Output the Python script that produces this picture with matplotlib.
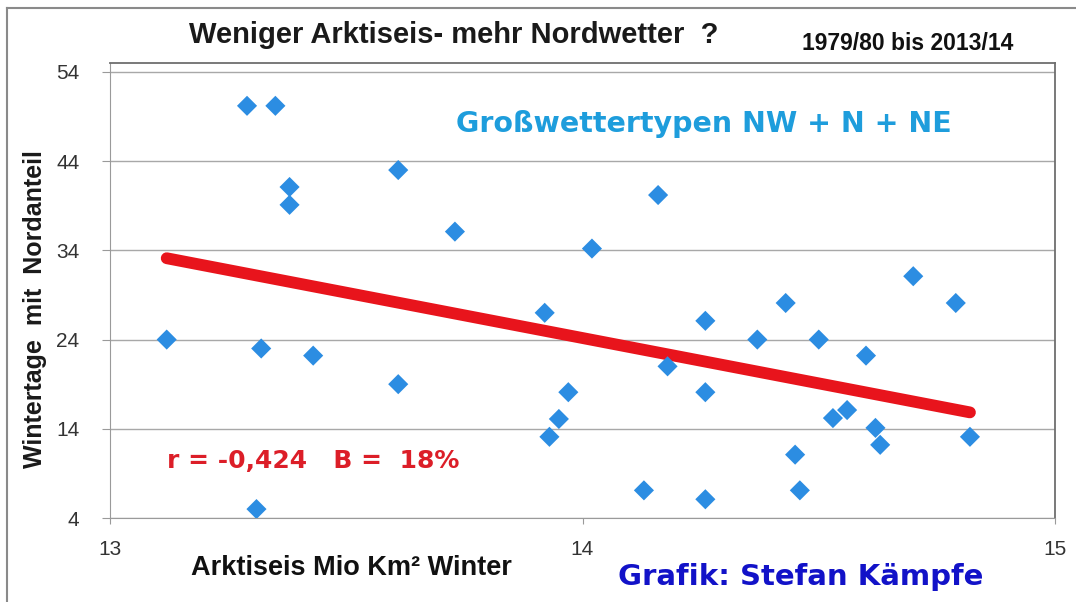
import numpy as np
import matplotlib.pyplot as plt
from matplotlib.lines import Line2D

# Arktiseis (Mio km²) vs. Wintertage mit Nordanteil, Winter 1979/80 - 2013/14
eis = [13.12, 13.29, 13.35, 13.32, 13.38, 13.38, 13.43, 13.31, 13.61, 13.61,
       13.73, 13.92, 13.93, 13.95, 13.97, 14.02, 14.16, 14.13, 14.18, 14.26,
       14.26, 14.26, 14.37, 14.43, 14.45, 14.46, 14.50, 14.53, 14.56, 14.60,
       14.62, 14.63, 14.70, 14.79, 14.82]
tage = [24, 50.2, 50.2, 23, 41.1, 39.1, 22.2, 5, 43, 19,
        36.1, 27, 13.1, 15.1, 18.1, 34.2, 40.2, 7.1, 21, 26.1,
        18.1, 6.1, 24, 28.1, 11.1, 7.1, 24, 15.2, 16.1, 22.2,
        14.1, 12.2, 31.1, 28.1, 13.1]

yticks = [4, 14, 24, 34, 44, 54]
xticks = [13, 14, 15]

fig = plt.figure(figsize=(10.76, 6.02), dpi=100)
ax = fig.add_axes([110/1076, 1-518/602, 945/1076, 455/602])

slope, icpt = np.polyfit(eis, tage, 1)
xs = np.array([min(eis), max(eis)])
ax.plot(xs, slope*xs + icpt, color='#E8141C', lw=8.5, solid_capstyle='round', zorder=3)
ax.scatter(eis, tage, marker='D', s=105, color='#2C8DE2', edgecolors='none', zorder=4)

ax.set_xlim(13, 15)
ax.set_ylim(4, 55)
ax.set_yticks(yticks)
ax.set_xticks(xticks)
ax.grid(axis='y', color='#a8a8a8', lw=1)
ax.set_axisbelow(True)
for s in ['left', 'bottom']:
    ax.spines[s].set_color('#9a9a9a')
for s in ['top', 'right']:
    ax.spines[s].set_color('#6e6e6e')
    ax.spines[s].set_linewidth(1.3)
ax.tick_params(axis='y', length=6, color='#9a9a9a', pad=16, labelsize=15, labelcolor='#333333')
ax.tick_params(axis='x', length=4, color='#9a9a9a', pad=12, labelsize=15, labelcolor='#333333')
for lab in ax.get_xticklabels() + ax.get_yticklabels():
    lab.set_family('Liberation Sans')

fig.text(454/1076, 1-35/602, 'Weniger Arktiseis- mehr Nordwetter  ?', ha='center', va='center',
         fontsize=21, fontweight='bold', family='Liberation Sans', color='#1a1a1a')
fig.text(908/1076, 1-43/602, '1979/80 bis 2013/14', ha='center', va='center',
         fontsize=16.5, fontweight='bold', family='Liberation Sans', color='#111111')
fig.text(35/1076, 1-309/602, 'Wintertage  mit  Nordanteil', rotation=90, ha='center', va='center',
         fontsize=18, fontweight='bold', family='Liberation Sans', color='#1a1a1a')
fig.text(704/1076, 1-124/602, 'Großwettertypen NW + N + NE', ha='center', va='center',
         fontsize=20.5, fontweight='bold', family='DejaVu Sans', color='#1E9DDC')
fig.text(313/1076, 1-461/602, 'r = -0,424   B =  18%', ha='center', va='center',
         fontsize=18, fontweight='bold', family='DejaVu Sans', color='#DC1E28')
fig.text(351/1076, 1-568/602, 'Arktiseis Mio Km² Winter', ha='center', va='center',
         fontsize=19.5, fontweight='bold', family='Liberation Sans', color='#111111')
fig.text(801/1076, 1-577/602, 'Grafik: Stefan Kämpfe', ha='center', va='center',
         fontsize=21, fontweight='bold', family='DejaVu Sans', color='#1212C8')

# outer frame of the picture (left + top visible)
fig.add_artist(Line2D([7/1076, 7/1076], [0, 1-8/602], color='#8a8a8a', lw=1.5))
fig.add_artist(Line2D([7/1076, 1], [1-8/602, 1-8/602], color='#8a8a8a', lw=1.5))

fig.savefig('out.png', dpi=100)
